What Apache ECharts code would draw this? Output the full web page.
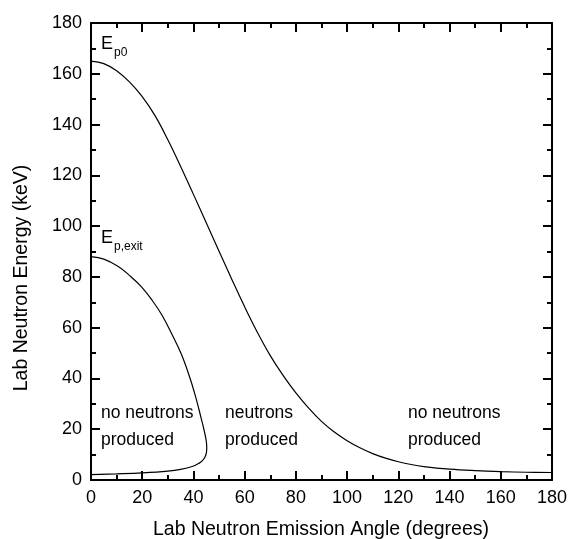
<!DOCTYPE html>
<html>
<head>
<meta charset="utf-8">
<script src="https://cdn.jsdelivr.net/npm/echarts@6/dist/echarts.min.js"></script>
<style>
  html, body { margin: 0; padding: 0; background: #fff; }
  #chart { width: 570px; height: 539px; }
</style>
</head>
<body>
<div id="chart"></div>
<script>
// upper curve, E_p0 (angle in degrees, energy in keV)
var ep0Angles = [0, 5, 10, 15, 20, 25, 30, 35, 40, 45, 50, 55, 60, 65, 70, 75, 80, 85, 90, 95,
    100, 105, 110, 115, 120, 125, 130, 140, 150, 160, 170, 180];
var ep0Energies = [165, 164, 161.2, 156.8, 151, 143.5, 134, 123.5, 112.5, 101.3, 90.1, 79, 68.2, 58.1, 49,
    41.2, 34.3, 28.3, 23.1, 18.9, 15.5, 12.7, 10.4, 8.6, 7.2, 6.1, 5.3, 4.3, 3.7, 3.3, 3.05, 2.95];

// closed loop, E_p,exit (upper branch down to the turn, then back along the bottom)
var exitAngles = [0, 5, 10.5, 15, 19.8, 24, 27.8, 31.5, 35.3, 38.7, 40.5, 41.6, 42.6, 43.6, 44.3, 44.9,
    45.2, 45.1, 44.6, 43.5, 42, 39.5, 35, 30, 20, 10, 0];
var exitEnergies = [88, 87, 84.2, 80.6, 76, 70.6, 64.8, 57.6, 49.5, 40, 34, 30, 26, 22, 19, 16,
    13, 11, 9.3, 7.6, 6.5, 5.3, 4.2, 3.5, 2.8, 2.4, 2.1];

var xTicks = { min: 0, max: 180, step: 20 };
var yTicks = { min: 0, max: 180, step: 20 };

var font = 'Liberation Sans, Arial, sans-serif';

function pairs(xs, ys) {
    return xs.map(function (x, i) { return [x, ys[i]]; });
}

var myChart = echarts.init(document.getElementById('chart'));

// common axis look: black frame, ticks pointing inward
function frameAxis(pos, ticks, showLabel) {
    return {
        type: 'value',
        position: pos,
        min: ticks.min,
        max: ticks.max,
        interval: ticks.step,
        axisLine: { show: true, onZero: false, lineStyle: { color: '#000', width: 2 } },
        axisTick: { show: true, inside: true, length: 9, lineStyle: { color: '#000', width: 2 } },
        minorTick: { show: true, splitNumber: 2, length: 5, lineStyle: { color: '#000', width: 2 } },
        splitLine: { show: false },
        axisLabel: {
            show: showLabel,
            color: '#000',
            fontSize: 18,
            fontFamily: font,
            margin: 9
        }
    };
}

myChart.setOption({
    animation: false,
    backgroundColor: '#fff',
    grid: { left: 91, right: 18, top: 23, bottom: 59 },
    xAxis: [frameAxis('bottom', xTicks, true), frameAxis('top', xTicks, false)],
    yAxis: [frameAxis('left', yTicks, true), frameAxis('right', yTicks, false)],
    series: [
        {
            type: 'line',
            data: pairs(ep0Angles, ep0Energies),
            showSymbol: false,
            smooth: 0.4,
            lineStyle: { color: '#000', width: 1.2 }
        },
        {
            type: 'line',
            data: pairs(exitAngles, exitEnergies),
            showSymbol: false,
            smooth: 0.4,
            lineStyle: { color: '#000', width: 1.2 }
        }
    ],
    graphic: [
        // axis titles
        {
            type: 'text', x: 321, y: 530,
            style: { text: 'Lab Neutron Emission Angle (degrees)', fill: '#000', font: '19.5px ' + font, align: 'center', verticalAlign: 'middle' }
        },
        {
            type: 'text', x: 22, y: 278, rotation: Math.PI / 2,
            style: { text: 'Lab Neutron Energy (keV)', fill: '#000', font: '19.5px ' + font, align: 'center', verticalAlign: 'middle' }
        },
        // curve labels
        { type: 'text', x: 101, y: 44, style: { text: 'E', fill: '#000', font: '18px ' + font, verticalAlign: 'middle' } },
        { type: 'text', x: 114, y: 53, style: { text: 'p0', fill: '#000', font: '12px ' + font, verticalAlign: 'middle' } },
        { type: 'text', x: 101, y: 238, style: { text: 'E', fill: '#000', font: '18px ' + font, verticalAlign: 'middle' } },
        { type: 'text', x: 114, y: 247, style: { text: 'p,exit', fill: '#000', font: '12px ' + font, verticalAlign: 'middle' } },
        // region labels
        { type: 'text', x: 101, y: 413, style: { text: 'no neutrons', fill: '#000', font: '17.5px ' + font, verticalAlign: 'middle' } },
        { type: 'text', x: 101, y: 440, style: { text: 'produced', fill: '#000', font: '17.5px ' + font, verticalAlign: 'middle' } },
        { type: 'text', x: 225, y: 413, style: { text: 'neutrons', fill: '#000', font: '17.5px ' + font, verticalAlign: 'middle' } },
        { type: 'text', x: 225, y: 440, style: { text: 'produced', fill: '#000', font: '17.5px ' + font, verticalAlign: 'middle' } },
        { type: 'text', x: 408, y: 413, style: { text: 'no neutrons', fill: '#000', font: '17.5px ' + font, verticalAlign: 'middle' } },
        { type: 'text', x: 408, y: 440, style: { text: 'produced', fill: '#000', font: '17.5px ' + font, verticalAlign: 'middle' } }
    ]
});
</script>
</body>
</html>
